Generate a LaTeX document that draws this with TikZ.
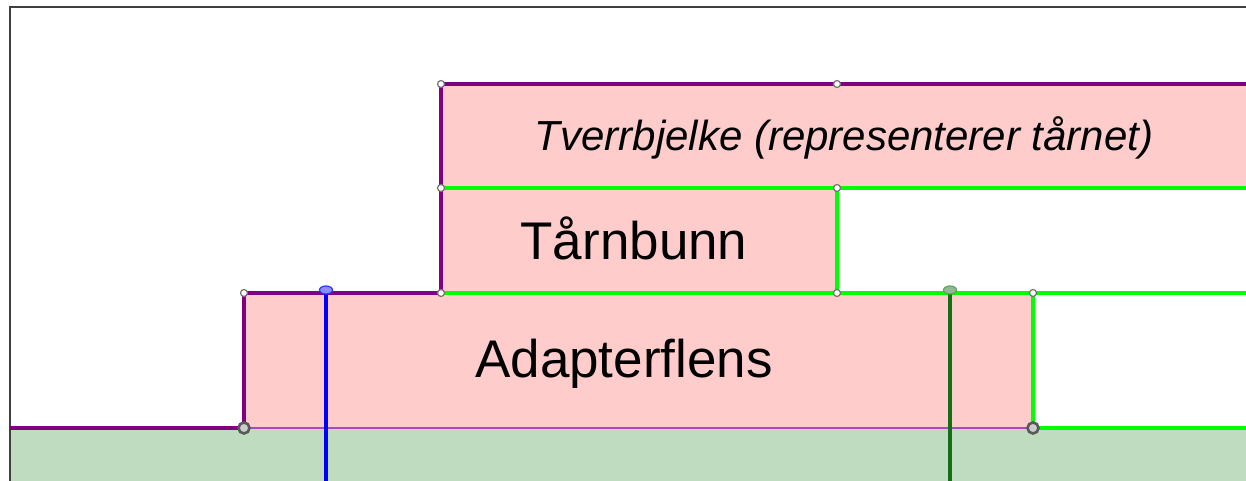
\documentclass[tikz,border=0pt]{standalone}
\usepackage{fontspec}
\setmainfont{Liberation Sans}
\usetikzlibrary{shapes.geometric}

\definecolor{flenspink}{RGB}{255,204,204}
\definecolor{groundgreen}{RGB}{192,220,192}
\definecolor{edgepurple}{RGB}{128,0,128}
\definecolor{edgeviolet}{RGB}{170,70,200}
\definecolor{edgegreen}{RGB}{0,255,0}
\definecolor{axisgreen}{RGB}{20,110,20}
\definecolor{framegray}{RGB}{64,64,64}

\begin{document}
\begin{tikzpicture}[
    x=0.5pt, y=-0.5pt,
    purpleedge/.style={draw=edgepurple, line width=1.7pt},
    greenedge/.style={draw=edgegreen, line width=1.7pt},
    vertex/.style={circle, draw=gray!90!black, fill=white, line width=0.6pt, inner sep=0pt, minimum size=3.5pt},
    bigvertex/.style={circle, draw=gray!70!black, fill=gray!40, line width=1.3pt, inner sep=0pt, minimum size=5.5pt},
    handle/.style={ellipse, line width=0.6pt, inner sep=0pt, minimum width=6.5pt, minimum height=4pt},
    parttext/.style={anchor=base, font=\fontsize{26.5}{30}\selectfont}
]
    \useasboundingbox (0,0) rectangle (1246,481);

    % Corners
    \coordinate (tl) at (441,84);
    \coordinate (tm) at (837,84);
    \coordinate (tr) at (1246,84);
    \coordinate (ml) at (441,188);
    \coordinate (mm) at (837,188);
    \coordinate (mr) at (1246,188);
    \coordinate (al) at (244,293);
    \coordinate (bl) at (441,293);
    \coordinate (bm) at (837,293);
    \coordinate (ar) at (1033,293);
    \coordinate (er) at (1246,293);
    \coordinate (gl) at (10,428);
    \coordinate (ag) at (244,428);
    \coordinate (ab) at (1033,428);
    \coordinate (gr) at (1246,428);

    % Parts
    \fill[flenspink] (tl) rectangle (mr);
    \fill[flenspink] (ml) rectangle (bm);
    \fill[flenspink] (al) rectangle (ab);
    \fill[groundgreen] (gl) rectangle (1246,481);

    % Frame
    \draw[framegray, line width=1.4pt] (10,481) -- (10,7) -- (1246,7);

    % Edges
    \draw[greenedge] (ml) -- (mr);
    \draw[greenedge] (mm) -- (bm);
    \draw[greenedge] (bl) -- (er);
    \draw[greenedge] (ar) -- (ab) -- (gr);
    \draw[purpleedge] (tr) -- (tl) -- (bl) -- (al) -- (ag) -- (gl);
    \draw[edgeviolet, line width=1.2pt] (ag) -- (ab);

    % Axes
    \coordinate (bluetop) at (326,290);
    \coordinate (bluefoot) at (326,481);
    \coordinate (greentop) at (950,290);
    \coordinate (greenfoot) at (950,481);
    \draw[blue, line width=1.6pt] (bluetop) -- (bluefoot);
    \draw[axisgreen, line width=1.6pt] (greentop) -- (greenfoot);
    \node[handle, draw=blue!80, fill=blue!45] (bluehandle) at (bluetop) {};
    \node[handle, draw=gray!70!green, fill=green!25!gray!70] (greenhandle) at (greentop) {};

    % Points
    \foreach \p in {tl,tm,ml,mm,al,bl,bm,ar}
        \node[vertex] at (\p) {};
    \node[bigvertex] at (ag) {};
    \node[bigvertex] at (ab) {};

    % Labels
    \node[parttext, font=\fontsize{21}{24}\selectfont\itshape] (tverr) at (844,150) {Tverrbjelke (representerer tårnet)};
    \node[parttext] (taarn) at (634,259) {Tårnbunn};
    \node[parttext] (adapter) at (624,377) {Adapterflens};
\end{tikzpicture}
\end{document}
